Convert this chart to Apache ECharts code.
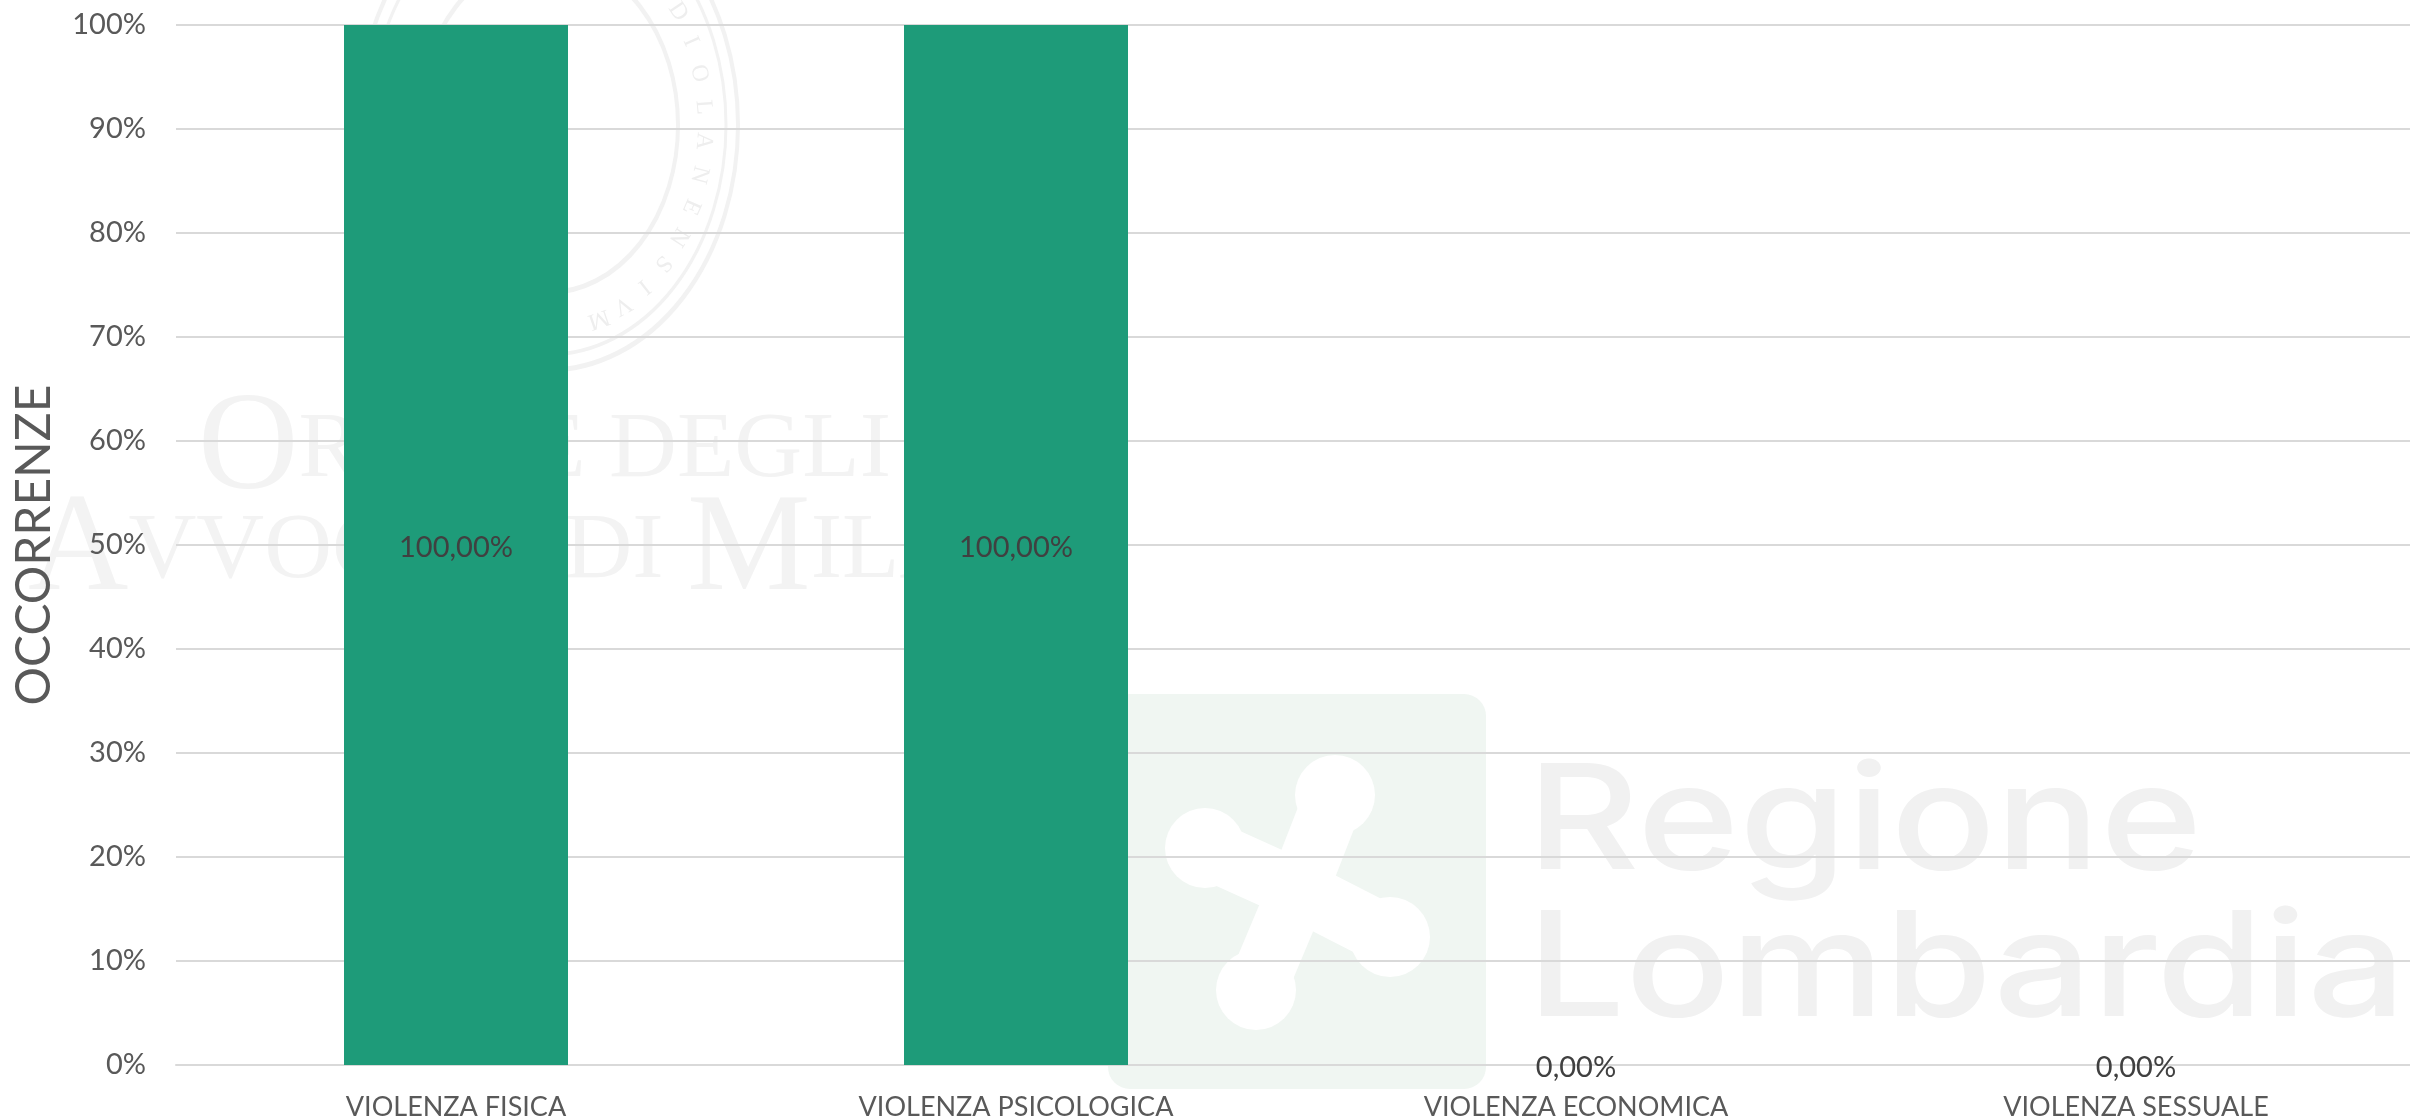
<!DOCTYPE html>
<html>
<head>
<meta charset="utf-8">
<style>
  html, body { margin: 0; padding: 0; background: #fff; }
  #container { width: 2410px; height: 1120px; }
</style>
<script src="https://cdn.jsdelivr.net/npm/echarts@6/dist/echarts.min.js"></script>
</head>
<body>
<div id="container"></div>
<script>
var categories = ["VIOLENZA FISICA", "VIOLENZA PSICOLOGICA", "VIOLENZA ECONOMICA", "VIOLENZA SESSUALE"];
var values = [100, 100, 0, 0];
var valueLabels = ["100,00%", "100,00%", "0,00%", "0,00%"];
var axisName = "OCCORRENZE";

var fontName = "Lato";
var myChart = echarts.init(document.getElementById("container"));

// faint watermarks sitting behind the chart
function watermarks() {
  var seal = "#f2f2f2";
  var serif = "#f3f3f3";
  var text = "#f1f1f1";
  var ring = function (r, w) {
    return { type: "circle", z: -10, x: 548, y: 125, scaleY: 1.29, shape: { cx: 0, cy: 0, r: r },
      style: { fill: "none", stroke: seal, lineWidth: w } };
  };
  var lobe = function (cx, cy) {
    return [
      { type: "line", z: -9, shape: { x1: 1298, y1: 890, x2: cx, y2: cy },
        style: { stroke: "#fff", lineWidth: 60, lineCap: "round" } },
      { type: "circle", z: -9, shape: { cx: cx, cy: cy, r: 40 }, style: { fill: "#fff" } }
    ];
  };
  var smallCaps = function (x, y, big, size) {
    return { type: "text", z: -10, x: x, y: y, style: {
      text: big,
      fill: serif,
      font: size + "px 'Liberation Serif'",
      rich: {
        b: { fontFamily: "Liberation Serif", fontSize: 139, fill: serif, color: serif },
        s: { fontFamily: "Liberation Serif", fontSize: size, fill: serif, color: serif }
      }
    } };
  };
  // seal lettering running clockwise down the right side of the ring
  var sealLetters = [];
  var sealText = "STVDIOLANENSIVM";
  for (var i = 0; i < sealText.length; i++) {
    var t = (-62 + i * 9.5) * Math.PI / 180;
    sealLetters.push({
      type: "text", z: -10,
      x: 548 + 156 * Math.cos(t),
      y: 125 + 205 * Math.sin(t),
      rotation: -(t + Math.PI / 2),
      style: { text: sealText[i], fill: "#eeeeee", font: "24px 'Liberation Serif'", align: "center", verticalAlign: "middle" }
    });
  }
  return [
    ring(190, 4),
    ring(178, 3),
    ring(130, 4),
    smallCaps(198, 382, "{b|O}{s|RDINE DEGLI}", 94),
    smallCaps(28, 483, "{b|A}{s|VVOCATI DI }{b|M}{s|ILANO}", 94),
    { type: "rect", z: -10, shape: { x: 1108, y: 694, width: 378, height: 395, r: 22 }, style: { fill: "#f0f6f2" } }
  ].concat(
    sealLetters,
    lobe(1335, 795), lobe(1205, 848), lobe(1390, 937), lobe(1256, 990),
    [
      { type: "text", z: -10, x: 1527, y: 752, scaleX: 1.19, style: { text: "Regione", fill: text, font: "500 146px Inter" } },
      { type: "text", z: -10, x: 1527, y: 899, scaleX: 1.19, style: { text: "Lombardia", fill: text, font: "500 146px Inter" } }
    ]
  );
}

var option = {
  backgroundColor: "#fff",
  animation: false,
  textStyle: { fontFamily: fontName },
  graphic: { elements: watermarks() },
  grid: { left: 176, top: 25, width: 2240, height: 1040, outerBoundsMode: "none" },
  xAxis: {
    type: "category",
    data: categories,
    axisTick: { show: false },
    axisLine: { lineStyle: { color: "#d9d9d9", width: 2 } },
    axisLabel: { color: "#595959", fontSize: 27, fontFamily: fontName, margin: 29 }
  },
  yAxis: {
    type: "value",
    min: 0,
    max: 100,
    interval: 10,
    name: axisName,
    nameLocation: "middle",
    nameGap: 117,
    nameTextStyle: { color: "#595959", fontSize: 48, fontFamily: fontName },
    axisLine: { show: false },
    axisTick: { show: false },
    axisLabel: { color: "#595959", fontSize: 29, fontFamily: fontName, margin: 30, formatter: "{value}%" },
    splitLine: { lineStyle: { color: "#d9d9d9", width: 2 } }
  },
  series: [
    {
      type: "bar",
      data: values,
      barWidth: 224,
      itemStyle: { color: "#1e9b79" },
      label: {
        show: true,
        position: "inside",
        offset: [0, 3],
        color: "#404040",
        fontSize: 29,
        fontFamily: fontName,
        formatter: function (p) { return valueLabels[p.dataIndex]; }
      }
    }
  ]
};

myChart.setOption(option);
</script>
</body>
</html>
